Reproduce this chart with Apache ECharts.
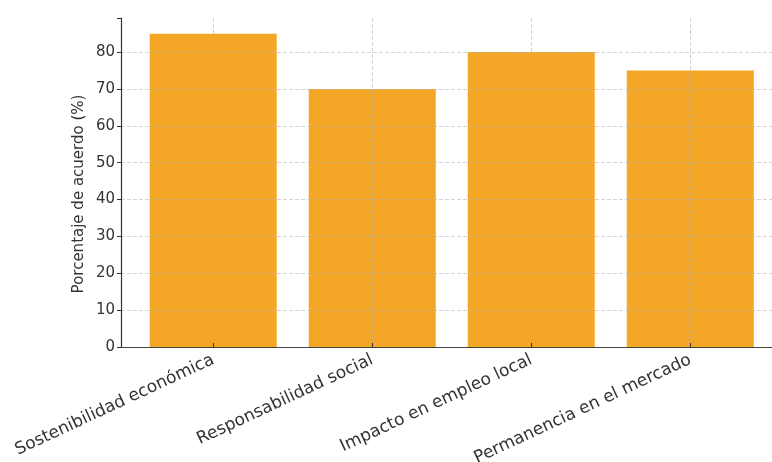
<!DOCTYPE html>
<html>
<head>
<meta charset="utf-8">
<script src="https://cdn.jsdelivr.net/npm/echarts@6/dist/echarts.min.js"></script>
<style>
html,body{margin:0;padding:0;background:#fff;}
#chart{width:772px;height:462px;}
</style>
</head>
<body>
<div id="chart"></div>
<script>
const categories = ['Sostenibilidad económica', 'Responsabilidad social', 'Impacto en empleo local', 'Permanencia en el mercado'];
const values = [85, 70, 80, 75];
const yTicks = [0, 10, 20, 30, 40, 50, 60, 70, 80];
const yLabel = 'Porcentaje de acuerdo (%)';

const positions = categories.map((c, i) => i);
const font = 'DejaVu Sans';
const gridColor = 'rgba(176,176,176,0.55)';
const chart = echarts.init(document.getElementById('chart'), null, {renderer: 'canvas'});
chart.setOption({
  animation: false,
  backgroundColor: '#fff',
  grid: {left: 121, right: 0, top: 18, bottom: 115, containLabel: false, outerBoundsMode: 'none'},
  xAxis: {
    type: 'value', min: -0.58, max: 3.514,
    axisLine: {show: true, onZero: false, lineStyle: {color: '#444', width: 1.2}},
    axisTick: {show: true, inside: true, length: 4, customValues: positions, lineStyle: {color: '#333'}},
    axisLabel: {
      customValues: positions,
      formatter: v => categories[Math.round(v)] || '',
      rotate: 25, fontFamily: font, fontSize: 17, color: '#333', margin: 12
    },
    splitLine: {show: true, lineStyle: {color: gridColor, type: [4, 2], width: 1}}
  },
  yAxis: {
    type: 'value', min: 0, max: 89.25, interval: 10,
    axisLine: {show: true, onZero: false, lineStyle: {color: '#333', width: 1.2}},
    axisTick: {show: true, inside: false, length: 4, lineStyle: {color: '#333'}},
    axisLabel: {fontFamily: font, fontSize: 15, color: '#333', margin: 6,
      formatter: v => yTicks.includes(v) ? String(v) : ''},
    splitLine: {show: true, showMinLine: false, showMaxLine: false, lineStyle: {color: gridColor, type: [4, 2], width: 1}}
  },
  graphic: [{
    type: 'text', x: 79, y: 194, rotation: Math.PI / 2,
    style: {text: yLabel, fontFamily: font, fontSize: 15, fill: '#333', align: 'center', verticalAlign: 'middle'}
  }],
  series: [{
    type: 'bar',
    data: values.map((v, i) => [positions[i], v]),
    barWidth: 127,
    itemStyle: {color: '#F4A627'},
    z: -1
  }]
});
</script>
</body>
</html>
